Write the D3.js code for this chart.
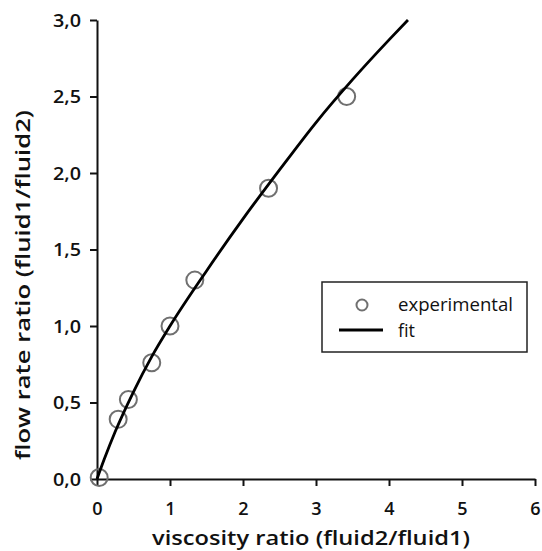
<!DOCTYPE html>
<html><head><meta charset="utf-8">
<script src="https://cdn.jsdelivr.net/npm/d3@7"></script>
<style>body{margin:0;background:#fff}svg{display:block}text{font-family:"Open Sans",sans-serif;fill:#111}</style>
</head><body><svg id="c" width="542" height="551"></svg>
<script>
const expX = [0.03, 0.29, 0.43, 0.75, 1.00, 1.34, 2.35, 3.42];
const expY = [0.01, 0.39, 0.52, 0.76, 1.00, 1.30, 1.90, 2.50];
const fitX = [0, 0.1, 0.25, 0.5, 0.75, 1.0, 1.5, 2.0, 2.5, 3.0, 3.5, 4.0, 4.26];
const fitY = [0, 0.13, 0.31, 0.57, 0.80, 1.0, 1.36, 1.70, 2.02, 2.33, 2.61, 2.87, 3.0];
const xTicks = [0, 1, 2, 3, 4, 5, 6];
const yTicks = [0, 0.5, 1.0, 1.5, 2.0, 2.5, 3.0];
const legendLabels = ["experimental", "fit"];

const svg = d3.select("#c");
const x = d3.scaleLinear().domain([0, 6]).range([97, 535]);
const y = d3.scaleLinear().domain([0, 3]).range([479, 20]);
const fmt = d => d3.format(".1f")(d).replace(".", ",");

const gx = svg.append("g").attr("transform", "translate(0,479)")
  .call(d3.axisBottom(x).tickValues(xTicks).tickFormat(d3.format("d")).tickSize(7).tickSizeOuter(0));
const gy = svg.append("g").attr("transform", "translate(97,0)")
  .call(d3.axisLeft(y).tickValues(yTicks).tickFormat(fmt).tickSize(7).tickSizeOuter(0));
[gx, gy].forEach(g => {
  g.select(".domain").attr("stroke", "#111").attr("stroke-width", 2);
  g.selectAll(".tick line").attr("stroke", "#111").attr("stroke-width", 2);
  g.selectAll(".tick text").attr("font-size", 18).attr("font-weight", 600).attr("fill", "#111").style("font-family", "Open Sans");
});
gx.selectAll(".tick text").attr("y", 0).attr("dy", null)
  .attr("transform", "translate(0,36)");
gy.selectAll(".tick text").attr("x", -16).attr("dy", "0.36em")
  .attr("textLength", 28).attr("lengthAdjust", "spacingAndGlyphs");

svg.append("text").attr("x", 311).attr("y", 545).attr("text-anchor", "middle")
  .attr("font-size", 20).attr("font-weight", 600)
  .attr("textLength", 318).attr("lengthAdjust", "spacingAndGlyphs")
  .text("viscosity ratio (fluid2/fluid1)");
svg.append("text").attr("transform", "translate(30,285) rotate(-90)").attr("text-anchor", "middle")
  .attr("font-size", 20).attr("font-weight", 600)
  .attr("textLength", 350).attr("lengthAdjust", "spacingAndGlyphs")
  .text("flow rate ratio (fluid1/fluid2)");

const pts = expX.map((v, i) => [v, expY[i]]);
svg.append("g").selectAll("circle").data(pts).join("circle")
  .attr("cx", d => x(d[0])).attr("cy", d => y(d[1])).attr("r", 8.5)
  .attr("fill", "none").attr("stroke", "#707070").attr("stroke-width", 2);

const fit = fitX.map((v, i) => [v, fitY[i]]);
svg.append("path").datum(fit)
  .attr("d", d3.line().x(d => x(d[0])).y(d => y(d[1])).curve(d3.curveMonotoneX))
  .attr("fill", "none").attr("stroke", "#000").attr("stroke-width", 2.8);

const lg = svg.append("g");
lg.append("rect").attr("x", 322).attr("y", 282).attr("width", 205).attr("height", 70)
  .attr("fill", "#fff").attr("stroke", "#222").attr("stroke-width", 1.5);
lg.append("circle").attr("cx", 362).attr("cy", 305).attr("r", 5.5)
  .attr("fill", "none").attr("stroke", "#707070").attr("stroke-width", 2);
lg.append("line").attr("x1", 339).attr("x2", 383).attr("y1", 330).attr("y2", 330)
  .attr("stroke", "#000").attr("stroke-width", 2.8);
lg.selectAll("text").data(legendLabels).join("text")
  .attr("x", 398).attr("y", (d, i) => 311 + i * 26)
  .attr("font-size", 18).attr("font-weight", 500)
  .attr("textLength", (d, i) => i === 0 ? 115 : null)
  .attr("lengthAdjust", "spacingAndGlyphs")
  .text(d => d);
</script></body></html>
